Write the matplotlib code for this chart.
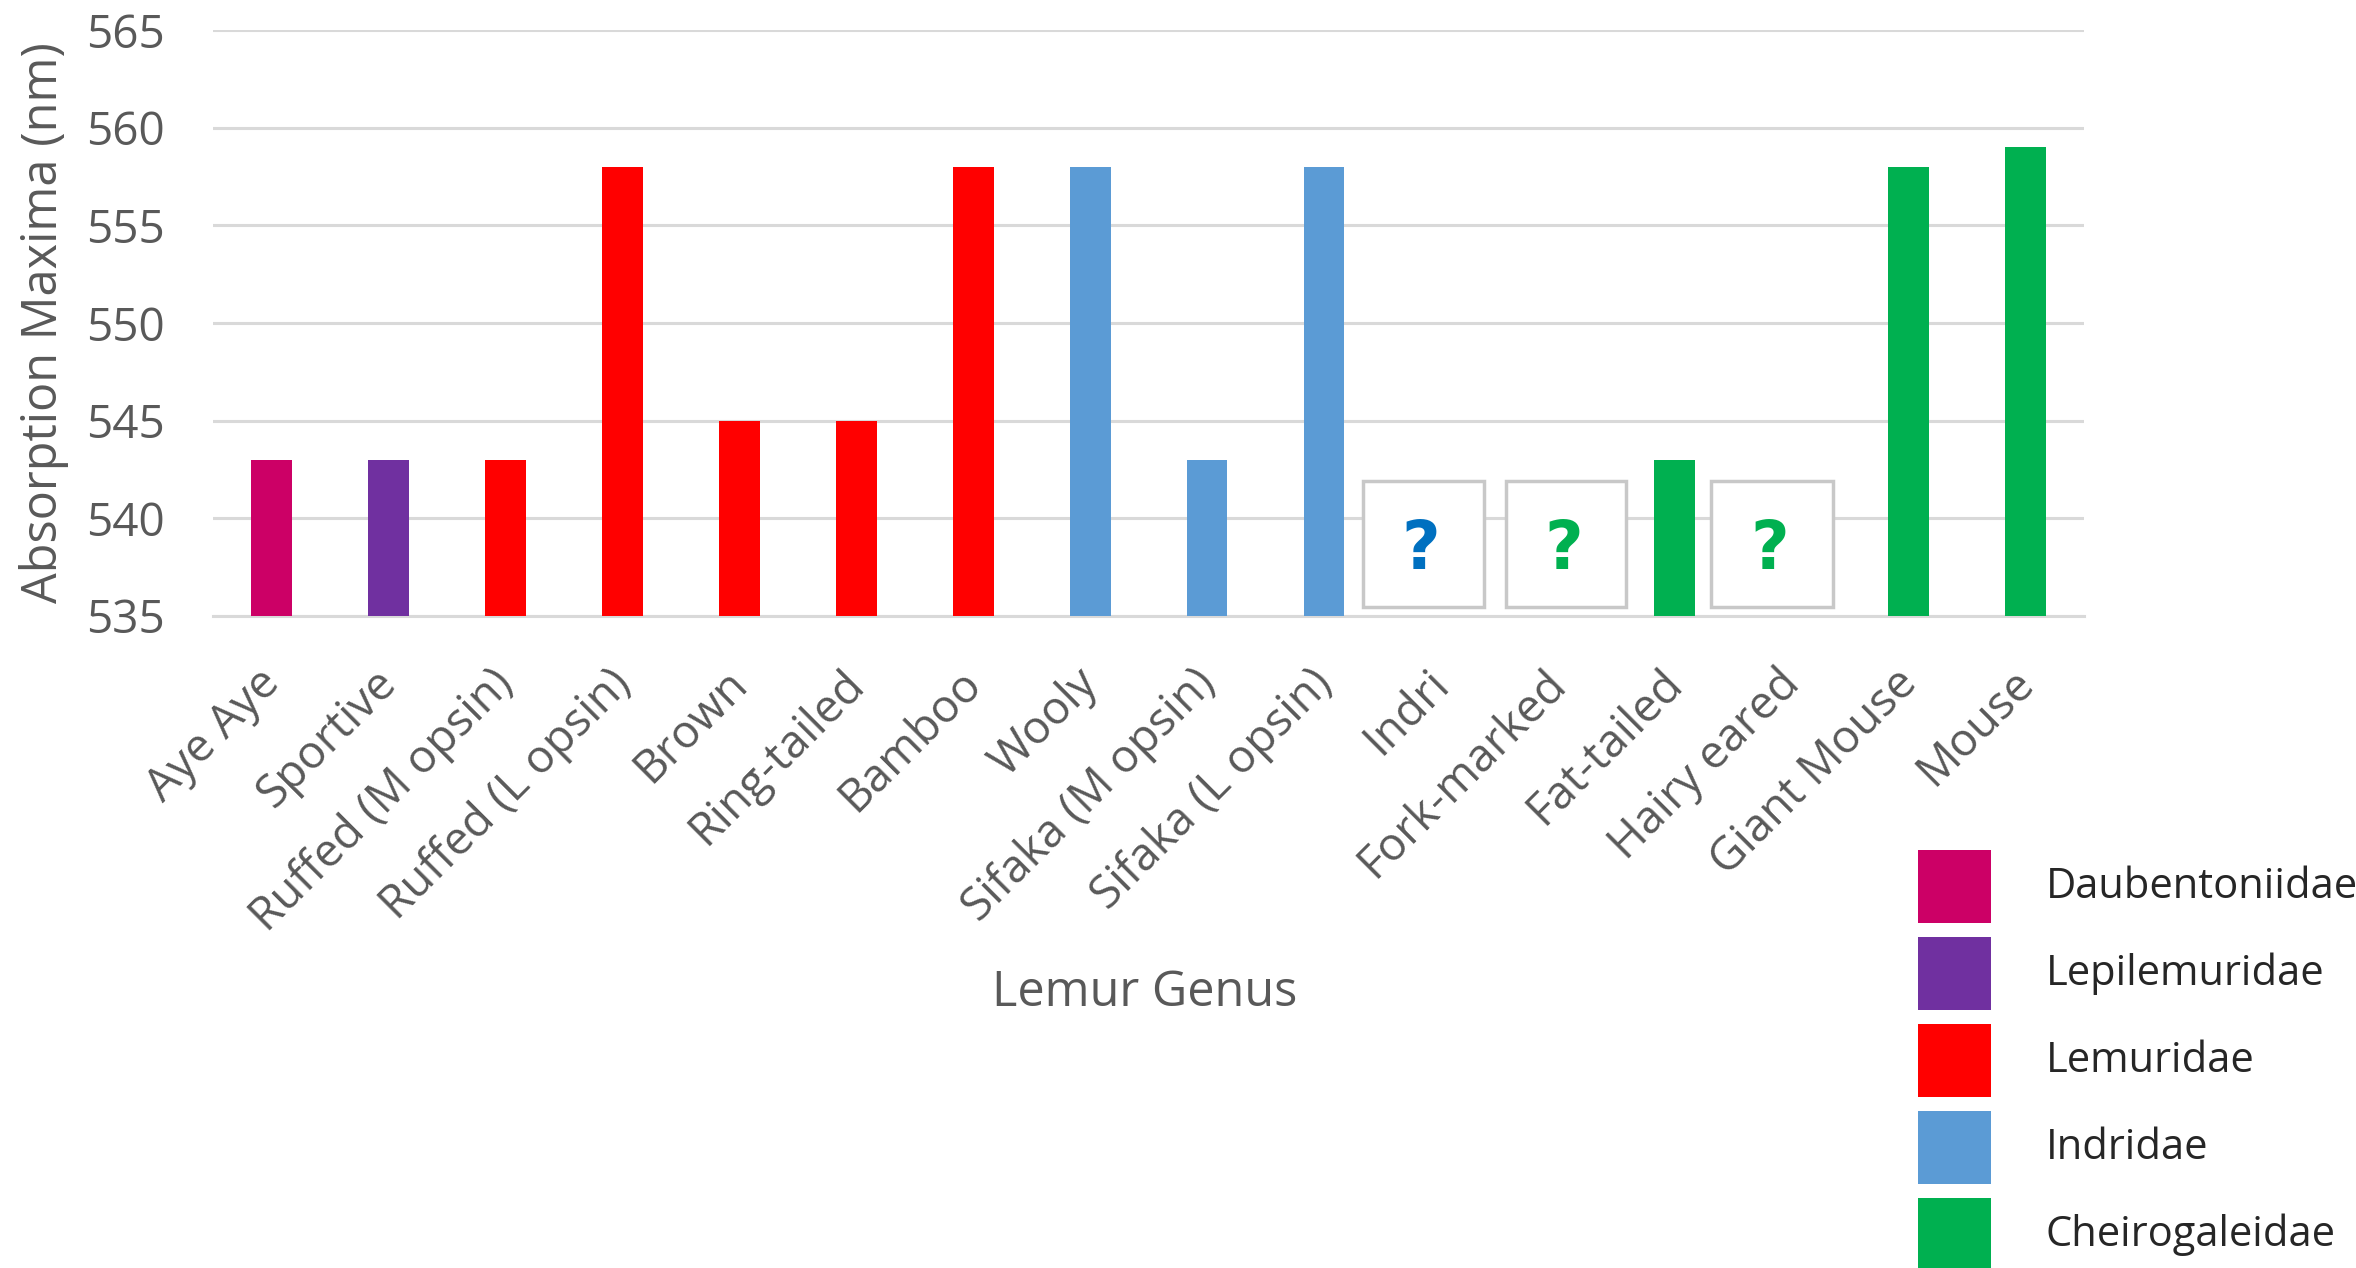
import matplotlib.pyplot as plt
import matplotlib.patches as mpatches
from matplotlib.transforms import ScaledTranslation
import numpy as np

plt.rcParams['font.family'] = ['Open Sans', 'DejaVu Sans']

genus = ['Aye Aye', 'Sportive', 'Ruffed (M opsin)', 'Ruffed (L opsin)', 'Brown',
         'Ring-tailed', 'Bamboo', 'Wooly', 'Sifaka (M opsin)', 'Sifaka (L opsin)',
         'Indri', 'Fork-marked', 'Fat-tailed', 'Hairy eared', 'Giant Mouse', 'Mouse']
absorption = [543, 543, 543, 558, 545, 545, 558, 558, 543, 558,
              np.nan, np.nan, 543, np.nan, 558, 559]
family = ['Daubentoniidae', 'Lepilemuridae', 'Lemuridae', 'Lemuridae', 'Lemuridae',
          'Lemuridae', 'Lemuridae', 'Indridae', 'Indridae', 'Indridae',
          'Indridae', 'Cheirogaleidae', 'Cheirogaleidae', 'Cheirogaleidae',
          'Cheirogaleidae', 'Cheirogaleidae']
families = ['Daubentoniidae', 'Lepilemuridae', 'Lemuridae', 'Indridae', 'Cheirogaleidae']
family_colors = {'Daubentoniidae': '#CC0066', 'Lepilemuridae': '#7030A0',
                 'Lemuridae': '#FF0000', 'Indridae': '#5B9BD5',
                 'Cheirogaleidae': '#00B050'}
# unknown values: box placed around slot, question mark colour
unknown_box = {10: (-0.67, 0.37), 11: (-0.44, 0.58), 13: (-0.69, 0.35)}
unknown_color = {10: '#0070C0', 11: '#00B050', 13: '#00B050'}

ymin, ymax = 535, 565
gray = '#595959'
grid = '#D9D9D9'

fig = plt.figure(figsize=(23.56, 12.68), dpi=100)
ax = fig.add_axes([0.0904, 0.5142, 0.7942, 0.4621])

x = np.arange(len(genus))
vals = np.array(absorption, dtype=float)
heights = np.where(np.isnan(vals), 0, vals - ymin)
colors = [family_colors[f] for f in family]
ax.bar(x, heights, bottom=ymin, width=0.35, color=colors, zorder=3)

for i, (l, r) in unknown_box.items():
    ax.add_patch(mpatches.Rectangle((i + l, 535.46), r - l, 6.46, fill=True,
                                    facecolor='white', edgecolor='#C8C8C8',
                                    linewidth=2.5, zorder=4))
    ax.text(i + (l + r) / 2 - 0.02, 538.4, '?', color=unknown_color[i],
            fontsize=48, fontweight='bold', ha='center', va='center',
            family=['DejaVu Sans'], zorder=5)

ax.set_xlim(-0.5, len(genus) - 0.5)
ax.set_ylim(ymin, ymax)
ax.set_yticks(range(535, 566, 5))
ax.yaxis.grid(True, color=grid, linewidth=2.2, zorder=0)
ax.set_axisbelow(True)
for s in ['top', 'right', 'left']:
    ax.spines[s].set_visible(False)
ax.spines['bottom'].set_color(grid)
ax.spines['bottom'].set_linewidth(2.2)
ax.tick_params(axis='both', length=0, colors=gray, labelsize=33)
ax.tick_params(axis='y', pad=35)
ax.set_xticks(x)
ax.set_xticklabels(genus, rotation=45, ha='right', va='top',
                   rotation_mode='anchor')
ax.tick_params(axis='x', pad=32)
shift = ScaledTranslation(-0.15, 0, fig.dpi_scale_trans)
for lab in ax.get_xticklabels():
    lab.set_transform(lab.get_transform() + shift)

ax.set_ylabel('Absorption Maxima (nm)', fontsize=35, color=gray, labelpad=12)
fig.text(0.486, 0.217, 'Lemur Genus', fontsize=35, color=gray,
         ha='center', va='center')

# legend drawn as squares with labels on the right
W, H = 2356, 1268
for k, f in enumerate(families):
    top = 850 + 87 * k
    fig.add_artist(mpatches.Rectangle((1918 / W, 1 - (top + 73) / H), 73 / W, 73 / H,
                                      transform=fig.transFigure,
                                      facecolor=family_colors[f], edgecolor='none'))
    fig.text(2046 / W, 1 - (top + 37) / H, f, fontsize=30, color='#262626',
             ha='left', va='center')

fig.savefig('out.png', dpi=100)
